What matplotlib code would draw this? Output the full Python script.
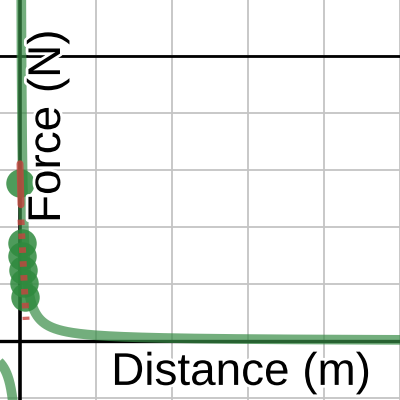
import matplotlib
matplotlib.use("Agg")
import matplotlib.pyplot as plt
import matplotlib.patheffects as pe
import numpy as np

plt.rcParams['font.family'] = ['Liberation Sans', 'DejaVu Sans']
plt.rcParams['lines.scale_dashes'] = False

# Inverse curve F = K / d
K = 0.1

# Measured points (distance, force)
point_d = [0.0, 0.026, 0.026, 0.04, 0.05, 0.066]
point_f = [2.77, 1.72, 1.49, 1.25, 1.02, 0.77]

# Red guide segments
red_solid_d = [0.0, 0.013]
red_solid_f = [3.11, 2.39]
red_dash_d = [0.013, 0.08]
red_dash_f = [2.13, 0.37]

# Reference level line
level_f = 5

x_label = "Distance (m)"
y_label = "Force (N)"

fig = plt.figure(figsize=(4, 4), dpi=100)
ax = fig.add_axes([0, 0, 1, 1])
ax.set_xlim(-20 / 76, 380 / 76)
ax.set_ylim(-59 / 57, 341 / 57)

ax.set_xticks([1, 2, 3, 4, 5])
ax.set_yticks([-1, 1, 2, 3, 4, 5])
ax.grid(True, color='#c4c4c4', linewidth=1.3, zorder=0)
ax.tick_params(length=0, labelbottom=False, labelleft=False)
for s in ax.spines.values():
    s.set_visible(False)
ax.set_axisbelow(True)

ax.axhline(0, color='black', linewidth=2.4, zorder=1)
ax.axvline(0, color='black', linewidth=2.6, zorder=1)
ax.axhline(level_f, color='black', linewidth=2.0, zorder=1)

# curve branches
d_pos = np.linspace(0.005, 5.2, 2000)
d_neg = np.linspace(-0.4, -0.005, 500)
ax.plot(d_pos, K / d_pos, color='#388c46', alpha=0.7, linewidth=7,
        solid_capstyle='butt', zorder=2)
ax.plot(d_neg, K / d_neg, color='#388c46', alpha=0.7, linewidth=7,
        solid_capstyle='butt', zorder=2)

ax.plot(point_d, point_f, 'o', color='#2f8a3e', alpha=0.85, markersize=20.5,
        markeredgewidth=0, zorder=3)

ax.plot(red_solid_d, red_solid_f, color='#c74440', alpha=0.8, linewidth=5,
        solid_capstyle='round', zorder=4)
ax.plot(red_dash_d, red_dash_f, color='#c74440', alpha=0.8, linewidth=5,
        dashes=(4, 6), dash_capstyle='butt', zorder=4)

halo = [pe.withStroke(linewidth=4, foreground='white')]
ax.text(1.20, -0.77, x_label, fontsize=33, ha='left', va='baseline',
        path_effects=halo, zorder=5)
ax.text(0.526, 2.07, y_label, fontsize=33, rotation=90, rotation_mode='anchor',
        ha='left', va='baseline', path_effects=halo, zorder=5)

fig.savefig("out.png", dpi=100)
